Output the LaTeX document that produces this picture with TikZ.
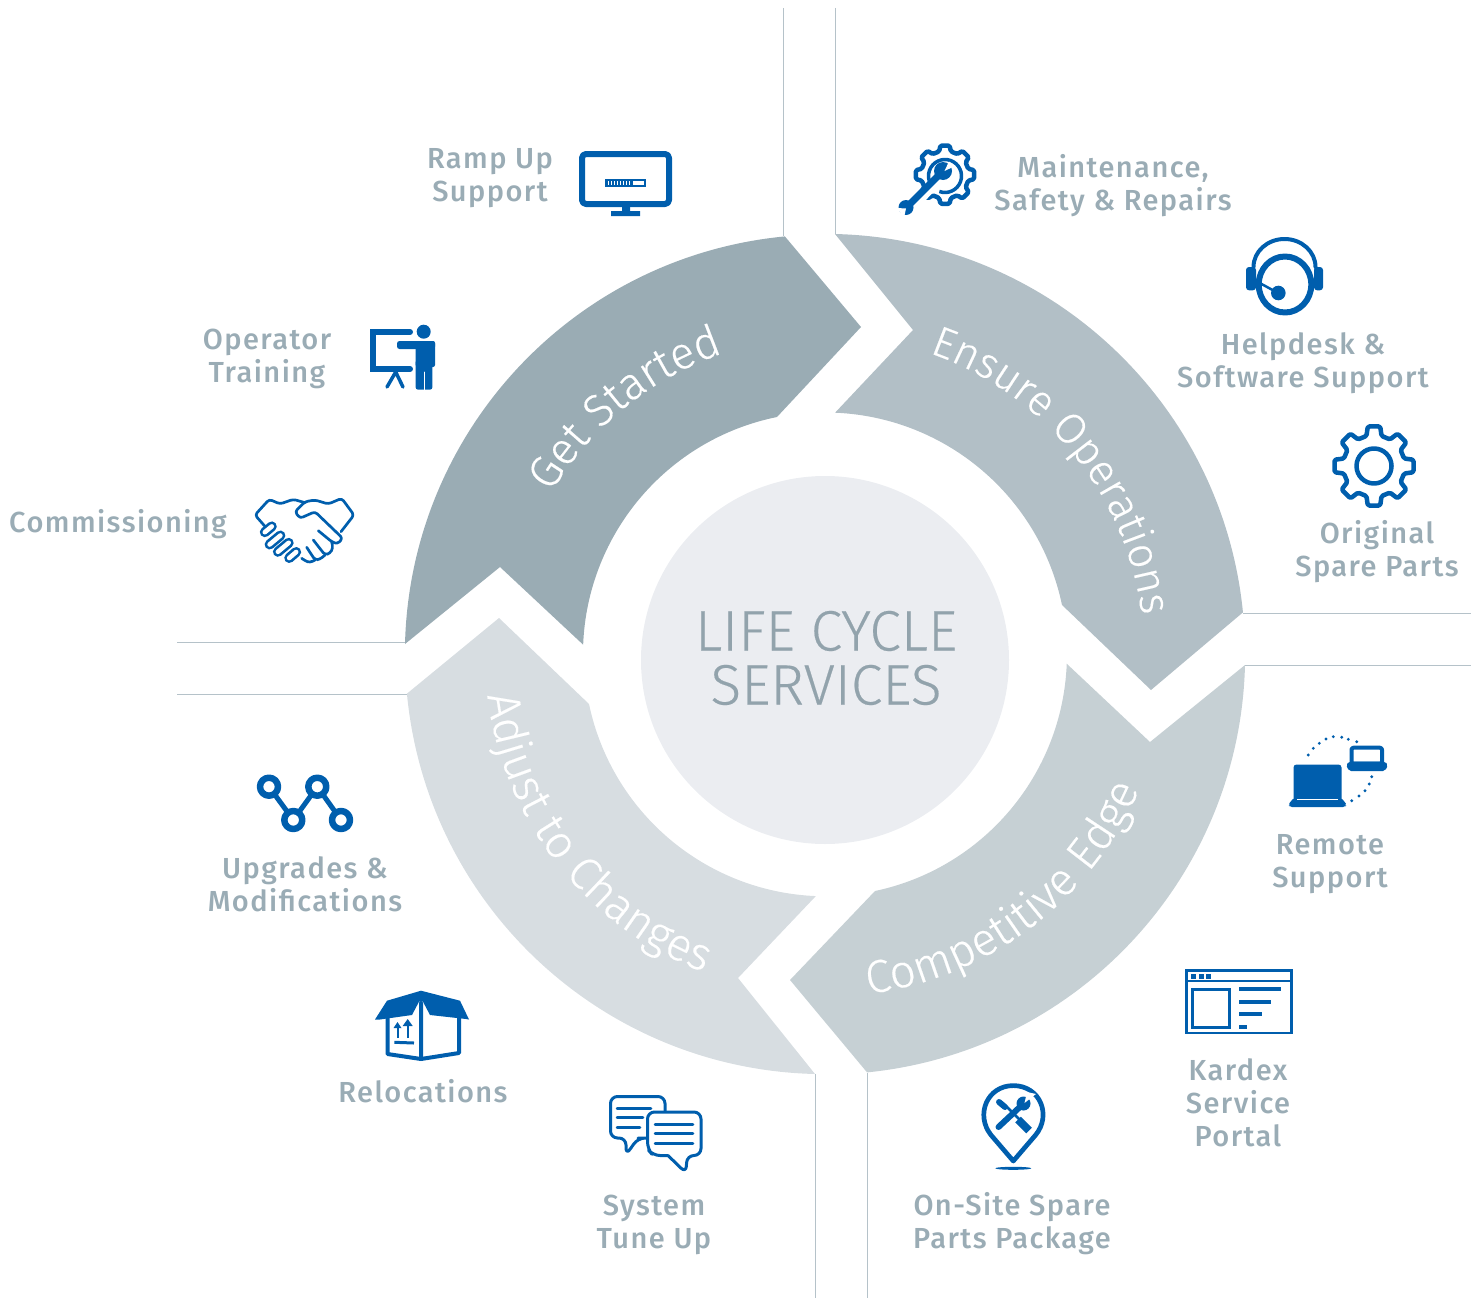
\documentclass[tikz,border=0pt]{standalone}
\usepackage{fontspec}
\usetikzlibrary{decorations.text}
\newfontfamily\labelfont[LetterSpace=5]{Fira Sans Medium}
\newfontfamily\ringfont[FakeBold=0.3]{Fira Sans Light}
\definecolor{kblue}{HTML}{005EAD}
\definecolor{ktext}{HTML}{9AACB5}
\definecolor{kline}{HTML}{B5C2C9}
\definecolor{ringa}{HTML}{9AACB4}
\definecolor{ringb}{HTML}{B2BFC6}
\definecolor{ringc}{HTML}{C6D0D4}
\definecolor{ringd}{HTML}{D7DDE1}
\definecolor{kcentre}{HTML}{EBEDF1}
\tikzset{
	svc/.style={font=\labelfont\fontsize{29}{33}\selectfont, text=ktext, align=center, inner sep=0pt},
	icon/.style={draw=kblue, line width=3pt, fill=none},
	cutline/.style={draw=kline, line width=1pt, line cap=butt}
}
\begin{document}
\begin{tikzpicture}[x=1pt,y=-1pt,line join=round,line cap=round]
	\useasboundingbox (0,0) rectangle (1478,1298);
	\def\rout{420pt} \def\rin{242pt}
	\coordinate (cen) at (825,654.5);
	% guide lines
	\draw[cutline] (783,8)--(783,236);
	\draw[cutline] (835,8)--(835,234);
	\draw[cutline] (177,642)--(405,642);
	\draw[cutline] (177,694)--(407,694);
	\draw[cutline] (1243,613)--(1471,613);
	\draw[cutline] (1245,665)--(1471,665);
	\draw[cutline] (815,1074)--(815,1298);
	\draw[cutline] (867,1073)--(867,1298);
	% ring
	\fill[ringa] (405,644) arc[start angle=178.57,end angle=95.46,radius=\rout]
		--(861,327)--(777,417) arc[start angle=101.43,end angle=177.75,radius=\rin]
		--(500,567)--cycle;
	\fill[ringb] (835,234) arc[start angle=88.64,end angle=5.67,radius=\rout]
		--(1151,690)--(1062,605) arc[start angle=11.8,end angle=87.64,radius=\rin]
		--(913,330)--cycle;
	\fill[ringc] (1245,665) arc[start angle=-1.43,end angle=-84.27,radius=\rout]
		--(790,980)--(875,891) arc[start angle=-78.06,end angle=-2.25,radius=\rin]
		--(1150,742)--cycle;
	\fill[ringd] (815,1074) arc[start angle=268.63,end angle=185.4,radius=\rout]
		--(499,618)--(589,704) arc[start angle=191.85,end angle=267.63,radius=\rin]
		--(738,978)--cycle;
	\fill[kcentre] (825,660) circle (184pt);
	\node[font=\ringfont\fontsize{57}{54}\selectfont, text=ktext!95!black, align=center, inner sep=0pt] (centre) at (826,658) {LIFE CYCLE\\SERVICES};
	% ring titles
	\path[decorate,decoration={text along path,text align=center,text={|\ringfont\fontsize{45}{45}\selectfont\color{white}|Get Started}}]
		([shift={(155:318pt)}]cen) arc[start angle=155,end angle=103,radius=318pt];
	\path[decorate,decoration={text along path,text align=center,text={|\ringfont\fontsize{43}{43}\selectfont\color{white}|Ensure Operations}}]
		([shift={(78:319pt)}]cen) arc[start angle=78,end angle=0,radius=319pt];
	\path[decorate,decoration={text along path,text align=center,text={|\ringfont\fontsize{46}{46}\selectfont\color{white}|Competitive Edge}}]
		([shift={(-91:342pt)}]cen) arc[start angle=-91,end angle=-15,radius=342pt];
	\path[decorate,decoration={text along path,text align=center,text={|\ringfont\fontsize{46}{46}\selectfont\color{white}|Adjust to Changes}}]
		([shift={(180:340pt)}]cen) arc[start angle=180,end angle=256,radius=340pt];
	% labels
	\node[svc] (rampup) at (490,178) {Ramp Up\\Support};
	\node[svc] (operator) at (267,359) {Operator\\Training};
	\node[svc] (commission) at (118,524) {Commissioning};
	\node[svc] (maint) at (1113,186) {Maintenance,\\Safety \& Repairs};
	\node[svc] (helpdesk) at (1303,363) {Helpdesk \&\\Software Support};
	\node[svc] (spare) at (1377,552) {Original\\Spare Parts};
	\node[svc] (remote) at (1330,864) {Remote\\Support};
	\node[svc] (portal) at (1238,1103) {Kardex\\Service\\Portal};
	\node[svc] (onsite) at (1012,1224) {On-Site Spare\\Parts Package};
	\node[svc] (tuneup) at (654,1225) {System\\Tune Up};
	\node[svc] (reloc) at (423,1091) {Relocations};
	\node[svc] (upgrade) at (305,884) {Upgrades \&\\Modifications};
	% monitor
	\draw[icon,line width=6pt,rounded corners=4pt] (582,154) rectangle (669,204);
	\fill[kblue] (622,206)--(630,206)--(630,211)--(640,211)--(640,216)--(611,216)--(611,211)--(622,211)--cycle;
	\fill[kblue] (605,178.5) rectangle (646,186.5);
	\fill[white] (633,180.5) rectangle (644,184.5);
	\foreach \x in {608,611,...,630} \fill[white] (\x,180.5) rectangle (\x+1,184.5);
	% trainer
	\draw[icon,line width=6pt,line join=miter] (410,332)--(373,332)--(373,369)--(410,369);
	\draw[icon,line width=3.5pt] (395.7,372)--(387,387) (395.7,372)--(403,387);
	\fill[kblue] (423.7,331.7) circle (7pt);
	\fill[kblue,rounded corners=2.5pt] (397,341) rectangle (435,349);
	\fill[kblue,rounded corners=2pt] (415.7,341) rectangle (435,367);
	\fill[kblue,rounded corners=2pt] (415.7,360) rectangle (432.3,389.5);
	\draw[white,line width=1pt] (424,372)--(424,390);
	% handshake
	\begin{scope}[icon,line width=2.7pt,rounded corners=3pt]
		\draw (266.7,528.3)--(255,515)--(269.3,499.3)--(280,504)--(293.3,499.3)--(305,502.7);
		\draw (341,531.7)--(354,515)--(341.7,498.3)--(328.3,504)--(315,500)--(305,501.7)--(295,511.7)--(300,518.3)--(315,511.7)--(342.7,538.3)--(337.3,544)--(331.7,541.7)--(318.3,530.7);
		\draw (331.7,541.7)--(333,548)--(330,553.3)--(325,555)--(313.3,540);
		\draw (325,555)--(320,559.3)--(315,560)--(306.7,547.3);
		\draw (315,560)--(310,562.7)--(305,560.7)--(301.7,558.3);
	\end{scope}
	\foreach \xa/\ya/\xb/\yb in {264.8/532.2/271.8/526.4,269.6/544.5/280.4/535.5,277.9/551.8/288.7/542.8,289.2/558/296.2/552} {
		\draw[kblue,line width=10pt] (\xa,\ya)--(\xb,\yb);
		\draw[white,line width=4.6pt] (\xa,\ya)--(\xb,\yb);
	}
	% gear with wrench
	\draw[icon,line width=4.5pt,rounded corners=1.5pt] ([shift={(-9:29.5pt)}]945,174.7)
		\foreach \a in {0,45,...,315}
			{ -- ([shift={(\a-9:29.5pt)}]945,174.7) -- ([shift={(\a+9:29.5pt)}]945,174.7) -- ([shift={(\a+14:24pt)}]945,174.7) -- ([shift={(\a+31:24pt)}]945,174.7)}
		-- cycle;
	\draw[icon,line width=3.5pt,line cap=butt] ([shift={(-110:16.5pt)}]945,176) arc[start angle=-110,end angle=210,radius=16.5pt];
	\draw[white,line width=11pt,line cap=butt] (906,213)--(941,176);
	\draw[kblue,line width=7pt,line cap=butt] (910,204)--(941,173);
	\fill[kblue] (943,171) circle (9pt);
	\fill[white] (944.5,171)--(949,161.5)--(954,166.5)--cycle;
	\fill[kblue] (906,207.5) circle (7.5pt);
	\fill[white] (906,208.5)--(897,208)--(904,218)--cycle;
	% headset
	\draw[icon,line width=4pt] (1253.5,267) arc[start angle=180,end angle=0,x radius=31pt,y radius=28pt];
	\draw[icon,line width=6pt] (1285,284.5) ellipse (26.3pt and 28pt);
	\fill[kblue,rounded corners=3pt] (1246,267) rectangle (1256,290.3);
	\fill[kblue,rounded corners=3pt] (1314,267) rectangle (1323,290.3);
	\draw[kblue,line width=2.5pt] (1261,283.7)--(1278,293);
	\fill[kblue] (1278.3,293) circle (7.3pt);
	% plain gear
	\draw[icon,line width=4.5pt,rounded corners=1.5pt] ([shift={(-9:40pt)}]1374,466)
		\foreach \a in {0,45,...,315}
			{ -- ([shift={(\a-9:40pt)}]1374,466) -- ([shift={(\a+9:40pt)}]1374,466) -- ([shift={(\a+14:31pt)}]1374,466) -- ([shift={(\a+31:31pt)}]1374,466)}
		-- cycle;
	\draw[icon,line width=4.5pt] (1374,466) circle (17.5pt);
	% laptops
	\fill[kblue,rounded corners=3pt] (1293.5,764.5) rectangle (1341.5,802);
	\fill[kblue,rounded corners=2pt] (1293.5,798)--(1341.5,798)--(1347,805)--(1345,807)--(1290,807)--(1288,805)--cycle;
	\draw[white,line width=1pt,line cap=butt] (1297,799.5)--(1338,799.5);
	\draw[icon,line width=4pt,rounded corners=2pt] (1351.5,747.7) rectangle (1382,763.7);
	\fill[kblue,rounded corners=2pt] (1346,765)--(1349,761.5)--(1385,761.5)--(1388,765)--(1385,771)--(1349,771)--cycle;
	\foreach \dx/\dy in {1308.3/755,1313.3/748.3,1319.3/743.3,1326/739,1333.3/736.7,1341.7/737.3,1348.3/739.3,1356.7/741.7,1371.7/776.7,1369.3/784,1365/790.7,1359/796,1351.7/800.7}
		\fill[kblue] (\dx,\dy) circle (1.6pt);
	% portal
	\draw[icon,line width=2.6pt,line join=miter] (1186.6,970.6) rectangle (1291.4,1033);
	\draw[icon,line width=2.4pt,line cap=butt] (1186,981)--(1292,981);
	\foreach \x in {1191,1199,1206} \fill[kblue] (\x,974) rectangle (\x+5,979);
	\draw[icon,line width=2.6pt,line join=miter] (1192.3,989.6) rectangle (1229.7,1027.7);
	\fill[kblue] (1238.7,987) rectangle (1281,991);
	\fill[kblue] (1238.7,1000) rectangle (1271,1004);
	\fill[kblue] (1238.7,1012) rectangle (1262,1016);
	\fill[kblue] (1238.7,1025) rectangle (1246.7,1029);
	% pin
	\draw[icon,line width=4.7pt] (1013.3,1161) -- (991,1135) .. controls (975,1115) and (987,1085.6) .. (1013.3,1085.6)
		.. controls (1040,1085.6) and (1052,1115) .. (1035.6,1135) -- cycle;
	\fill[kblue] (1013.3,1168.3) ellipse (18pt and 1.5pt);
	\draw[kblue,line width=6pt] (998.5,1127)--(1022,1105);
	\fill[kblue] (1023.5,1103.5) circle (7pt);
	\fill[white] (1024.5,1103)--(1036,1094)--(1027,1092)--cycle;
	\draw[kblue,line width=2.5pt,line cap=butt] (1006,1106)--(1020,1120);
	\draw[kblue,line width=6pt] (999,1102)--(1005,1107);
	\draw[kblue,line width=8pt,line cap=butt] (1018,1119.5)--(1029,1130.5);
	% chat
	\draw[icon,rounded corners=7pt] (645,1138)--(638,1138)--(626,1155)--(626,1138)--(610.5,1138)--(610.5,1096.5)--(665,1096.5)--(665,1138)--cycle;
	\draw[icon,fill=white,rounded corners=7pt] (668,1155.5)--(653,1155.5)--(647.5,1149)--(647.5,1112)--(701,1112)--(701,1155.5)--(687,1155.5)--(686,1173)--(668,1155.5);
	\draw[kblue,line width=2.5pt] (617,1108.3)--(651,1108.3) (617,1117.7)--(643,1117.7) (617,1127.3)--(640,1127.3);
	\draw[kblue,line width=2.5pt] (655,1124.3)--(693,1124.3) (655,1133.7)--(693,1133.7) (655,1143.3)--(693,1143.3);
	% box
	\draw[icon,line width=4pt] (387.5,1015)--(387.5,1054)--(421,1059)--(459,1053)--(459,1015) (421,1003)--(421,1059);
	\fill[kblue] (375,1019.5)--(387,1000.7)--(421,990.7)--(460,1000.7)--(469,1019.5)--(466,1019)--(430,1015)--(423,1001.7)--(419,1001.7)--(412,1015)--(380,1019.5)--cycle;
	\draw[kblue,line width=2pt,line cap=butt] (397.5,1038)--(397.5,1026) (407.7,1038)--(407.7,1024);
	\fill[kblue] (393.5,1028)--(397.5,1022)--(401.5,1028)--cycle (402.7,1026)--(407.7,1019)--(412.7,1026)--cycle;
	\draw[kblue,line width=3pt,line cap=butt] (394.3,1042.3)--(414,1043);
	% network
	\draw[kblue,line width=5pt] (269,786.7)--(293.3,820)--(317.3,786.7)--(341,820);
	\foreach \cx/\cy in {269/786.7,293.3/820,317.3/786.7,341/820}
		\draw[icon,fill=white,line width=6.5pt] (\cx,\cy) circle (9pt);
\end{tikzpicture}
\end{document}
